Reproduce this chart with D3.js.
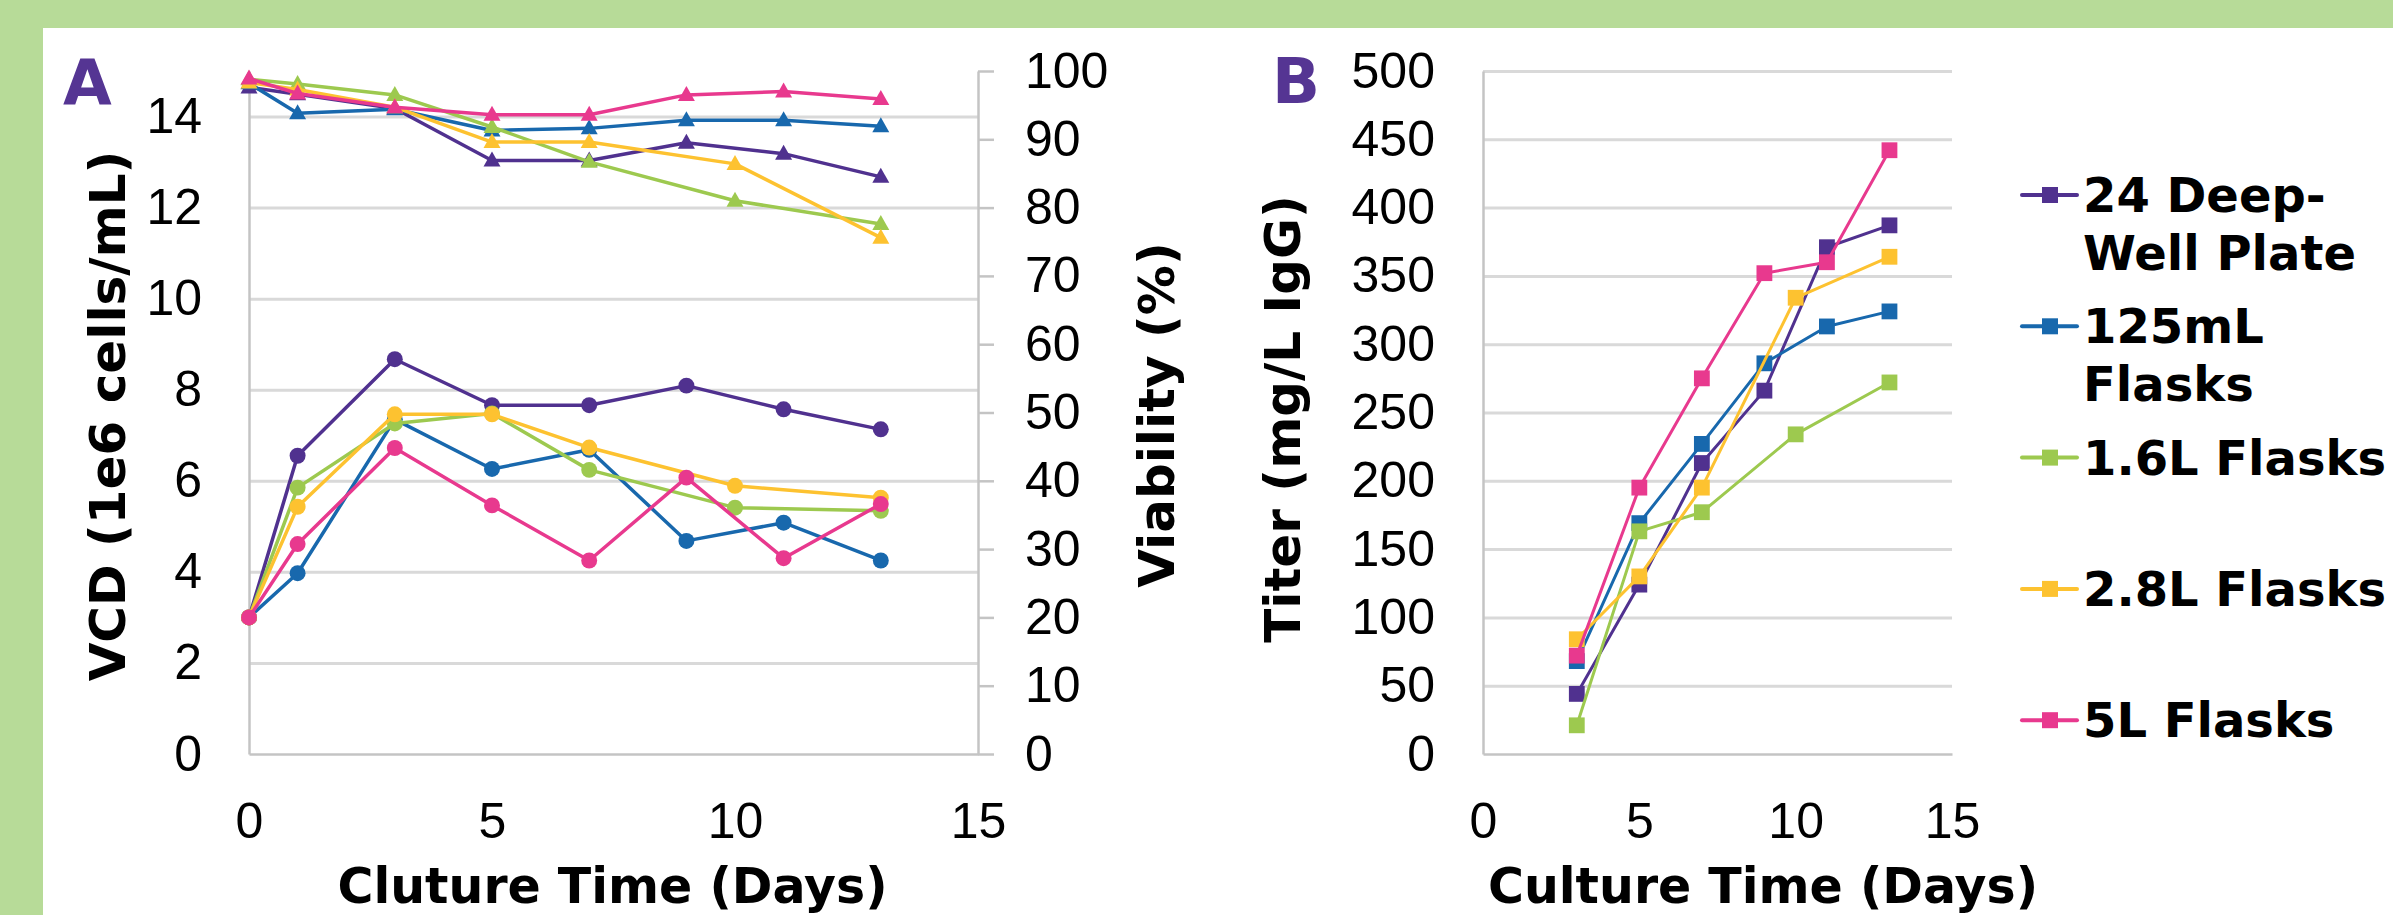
<!DOCTYPE html>
<html>
<head>
<meta charset="utf-8">
<script src="https://cdn.jsdelivr.net/npm/d3@7"></script>
<style>
  html, body { margin: 0; padding: 0; background: #b7db98; }
  svg { display: block; }
  .tick text { font-family: "Liberation Sans", Arial, sans-serif; font-size: 50px; fill: #000; }
  .title { font-family: "DejaVu Sans", Verdana, sans-serif; font-weight: bold; fill: #000; }
</style>
</head>
<body>
<div id="chart"></div>
<script>
// series names + colours
var seriesNames = ["24 Deep-Well Plate", "125mL Flasks", "1.6L Flasks", "2.8L Flasks", "5L Flasks"]
var legendLines = [["24 Deep-", "Well Plate"], ["125mL", "Flasks"], ["1.6L Flasks"], ["2.8L Flasks"], ["5L Flasks"]]
var colors = ["#50318f", "#1868ad", "#9dc94f", "#fdc230", "#e8398e"]

// panel A: culture days, VCD (1e6 cells/mL) and viability (%)
var vcdDays = [
    [0, 1, 3, 5, 7, 9, 11, 13],
    [0, 1, 3, 5, 7, 9, 11, 13],
    [0, 1, 3, 5, 7, 10, 13],
    [0, 1, 3, 5, 7, 10, 13],
    [0, 1, 3, 5, 7, 9, 11, 13]
]
var vcdValues = [
    [3.0, 6.55, 8.67, 7.66, 7.66, 8.09, 7.57, 7.13],
    [3.0, 3.97, 7.35, 6.26, 6.68, 4.68, 5.08, 4.25],
    [3.0, 5.85, 7.26, 7.48, 6.24, 5.41, 5.34],
    [3.0, 5.43, 7.46, 7.46, 6.73, 5.89, 5.63],
    [3.0, 4.61, 6.72, 5.46, 4.25, 6.07, 4.30, 5.49]
]
var viabilityValues = [
    [97.6, 96.6, 94.5, 86.9, 86.9, 89.5, 87.9, 84.5],
    [98.2, 93.8, 94.4, 91.3, 91.6, 92.8, 92.8, 91.9],
    [98.8, 98.1, 96.5, 91.8, 86.7, 81.0, 77.6],
    [98.3, 97.3, 94.7, 89.6, 89.6, 86.4, 75.6],
    [98.9, 96.7, 94.7, 93.6, 93.6, 96.5, 97.0, 95.9]
]

// panel B: titer (mg/L IgG)
var titerDays = [
    [3, 5, 7, 9, 11, 13],
    [3, 5, 7, 9, 11, 13],
    [3, 5, 7, 10, 13],
    [3, 5, 7, 10, 13],
    [3, 5, 7, 9, 11, 13]
]
var titerValues = [
    [44, 124, 213, 266, 371, 387],
    [68, 169, 227, 286, 313, 324],
    [21, 163, 177, 234, 272],
    [84, 130, 195, 334, 364],
    [72, 195, 275, 352, 360, 442]
]

// tick labels
var dayTicks = [0, 5, 10, 15]
var vcdTicks = [0, 2, 4, 6, 8, 10, 12, 14]
var viabilityTicks = [0, 10, 20, 30, 40, 50, 60, 70, 80, 90, 100]
var titerTicks = [0, 50, 100, 150, 200, 250, 300, 350, 400, 450, 500]

var width = 2393, height = 915
var plotTop = 71, plotBottom = 754
var gridColor = "#d9d9d9", axisColor = "#c4c4c4"

const svg = d3.select("#chart").append("svg")
    .attr("width", width)
    .attr("height", height)

// white panel on green frame
svg.append("rect").attr("x", 43).attr("y", 28)
    .attr("width", width - 43).attr("height", height - 28).attr("fill", "#fff")

function styleAxis(g) {
    g.select(".domain").attr("stroke", axisColor).attr("stroke-width", 2.5)
    g.selectAll(".tick line").attr("stroke", axisColor).attr("stroke-width", 2.5)
    g.selectAll(".tick text").attr("font-family", null).attr("font-size", null)
}

function grid(y, ticks, x0, x1) {
    var g = svg.append("g")
        .attr("transform", "translate(" + x0 + ",0)")
        .call(d3.axisLeft(y).tickValues(ticks.filter(d => d > 0)).tickSize(-(x1 - x0)).tickFormat(""))
    g.select(".domain").remove()
    g.selectAll(".tick line").attr("stroke", gridColor).attr("stroke-width", 3)
}

function markerPath(shape) {
    if (shape === "circle") return d3.symbol(d3.symbolCircle, 200)()
    if (shape === "square") return d3.symbol(d3.symbolSquare, 250)()
    return "M0,-9L8.5,6L-8.5,6Z"
}

function drawSeries(x, y, days, vals, color, shape, lw) {
    var pts = days.map((d, i) => [d, vals[i]])
    svg.append("path")
        .datum(pts)
        .attr("fill", "none")
        .attr("stroke", color)
        .attr("stroke-width", lw)
        .attr("stroke-linejoin", "round")
        .attr("d", d3.line().x(p => x(p[0])).y(p => y(p[1])))
    svg.append("g").selectAll("path")
        .data(pts).enter().append("path")
        .attr("transform", p => "translate(" + x(p[0]) + "," + y(p[1]) + ")")
        .attr("d", markerPath(shape))
        .attr("fill", color)
}

// ---------- panel A ----------
var ax0 = 249, ax1 = 978
const xA = d3.scaleLinear().domain([0, 15]).range([ax0, ax1])
const yVcd = d3.scaleLinear().domain([0, 15]).range([plotBottom, plotTop])
const yVia = d3.scaleLinear().domain([0, 100]).range([plotBottom, plotTop])

grid(yVcd, vcdTicks, ax0, ax1)

svg.append("g").attr("transform", "translate(" + ax0 + ",0)")
    .call(d3.axisLeft(yVcd).tickValues(vcdTicks).tickSize(0).tickSizeOuter(0).tickPadding(47))
    .call(styleAxis)

svg.append("g").attr("transform", "translate(" + ax1 + ",0)")
    .call(d3.axisRight(yVia).tickValues(viabilityTicks).tickSizeInner(16).tickSizeOuter(0).tickPadding(31))
    .call(styleAxis)

svg.append("g").attr("transform", "translate(0," + plotBottom + ")")
    .call(d3.axisBottom(xA).tickValues(dayTicks).tickSize(0).tickPadding(48))
    .call(styleAxis)

for (var s = 0; s < seriesNames.length; s++) {
    drawSeries(xA, yVcd, vcdDays[s], vcdValues[s], colors[s], "circle", 3.5)
}
for (var s = 0; s < seriesNames.length; s++) {
    drawSeries(xA, yVia, vcdDays[s], viabilityValues[s], colors[s], "triangle", 3.5)
}

svg.append("text").attr("class", "title").attr("x", 63).attr("y", 104)
    .attr("font-size", 63).style("fill", "#553593").text("A")

svg.append("text").attr("class", "title")
    .attr("transform", "translate(125,416) rotate(-90)")
    .attr("text-anchor", "middle").attr("font-size", 50)
    .text("VCD (1e6 cells/mL)")

svg.append("text").attr("class", "title")
    .attr("transform", "translate(1174,415) rotate(-90)")
    .attr("text-anchor", "middle").attr("font-size", 50)
    .text("Viability (%)")

svg.append("text").attr("class", "title")
    .attr("x", (ax0 + ax1) / 2 - 1).attr("y", 903)
    .attr("text-anchor", "middle").attr("font-size", 49)
    .text("Cluture Time (Days)")

// ---------- panel B ----------
var bx0 = 1483, bx1 = 1952
const xB = d3.scaleLinear().domain([0, 15]).range([bx0, bx1])
const yTiter = d3.scaleLinear().domain([0, 500]).range([plotBottom, plotTop])

grid(yTiter, titerTicks, bx0, bx1)

svg.append("g").attr("transform", "translate(" + bx0 + ",0)")
    .call(d3.axisLeft(yTiter).tickValues(titerTicks).tickSize(0).tickSizeOuter(0).tickPadding(48))
    .call(styleAxis)

svg.append("g").attr("transform", "translate(0," + plotBottom + ")")
    .call(d3.axisBottom(xB).tickValues(dayTicks).tickSize(0).tickPadding(48))
    .call(styleAxis)

for (var s = 0; s < seriesNames.length; s++) {
    drawSeries(xB, yTiter, titerDays[s], titerValues[s], colors[s], "square", 3)
}

svg.append("text").attr("class", "title").attr("x", 1272).attr("y", 103)
    .attr("font-size", 63).style("fill", "#553593").text("B")

svg.append("text").attr("class", "title")
    .attr("transform", "translate(1300,419) rotate(-90)")
    .attr("text-anchor", "middle").attr("font-size", 50)
    .text("Titer (mg/L IgG)")

svg.append("text").attr("class", "title")
    .attr("x", 1763).attr("y", 903)
    .attr("text-anchor", "middle").attr("font-size", 49)
    .text("Culture Time (Days)")

// legend
var legend = svg.append("g").selectAll("g")
    .data(seriesNames).enter().append("g")
    .attr("transform", (d, i) => "translate(2022," + (195 + i * 131.3) + ")")

legend.append("line")
    .attr("x1", 0).attr("x2", 55).attr("y1", 0).attr("y2", 0)
    .attr("stroke", (d, i) => colors[i]).attr("stroke-width", 4)
    .attr("stroke-linecap", "round")
legend.append("rect")
    .attr("x", 20).attr("y", -8).attr("width", 16).attr("height", 16)
    .attr("fill", (d, i) => colors[i])

legend.append("text").attr("class", "title")
    .attr("font-size", 48)
    .selectAll("tspan")
    .data((d, i) => legendLines[i]).enter().append("tspan")
    .attr("x", 61)
    .attr("y", (d, j) => 17 + j * 58)
    .text(d => d)
</script>
</body>
</html>
